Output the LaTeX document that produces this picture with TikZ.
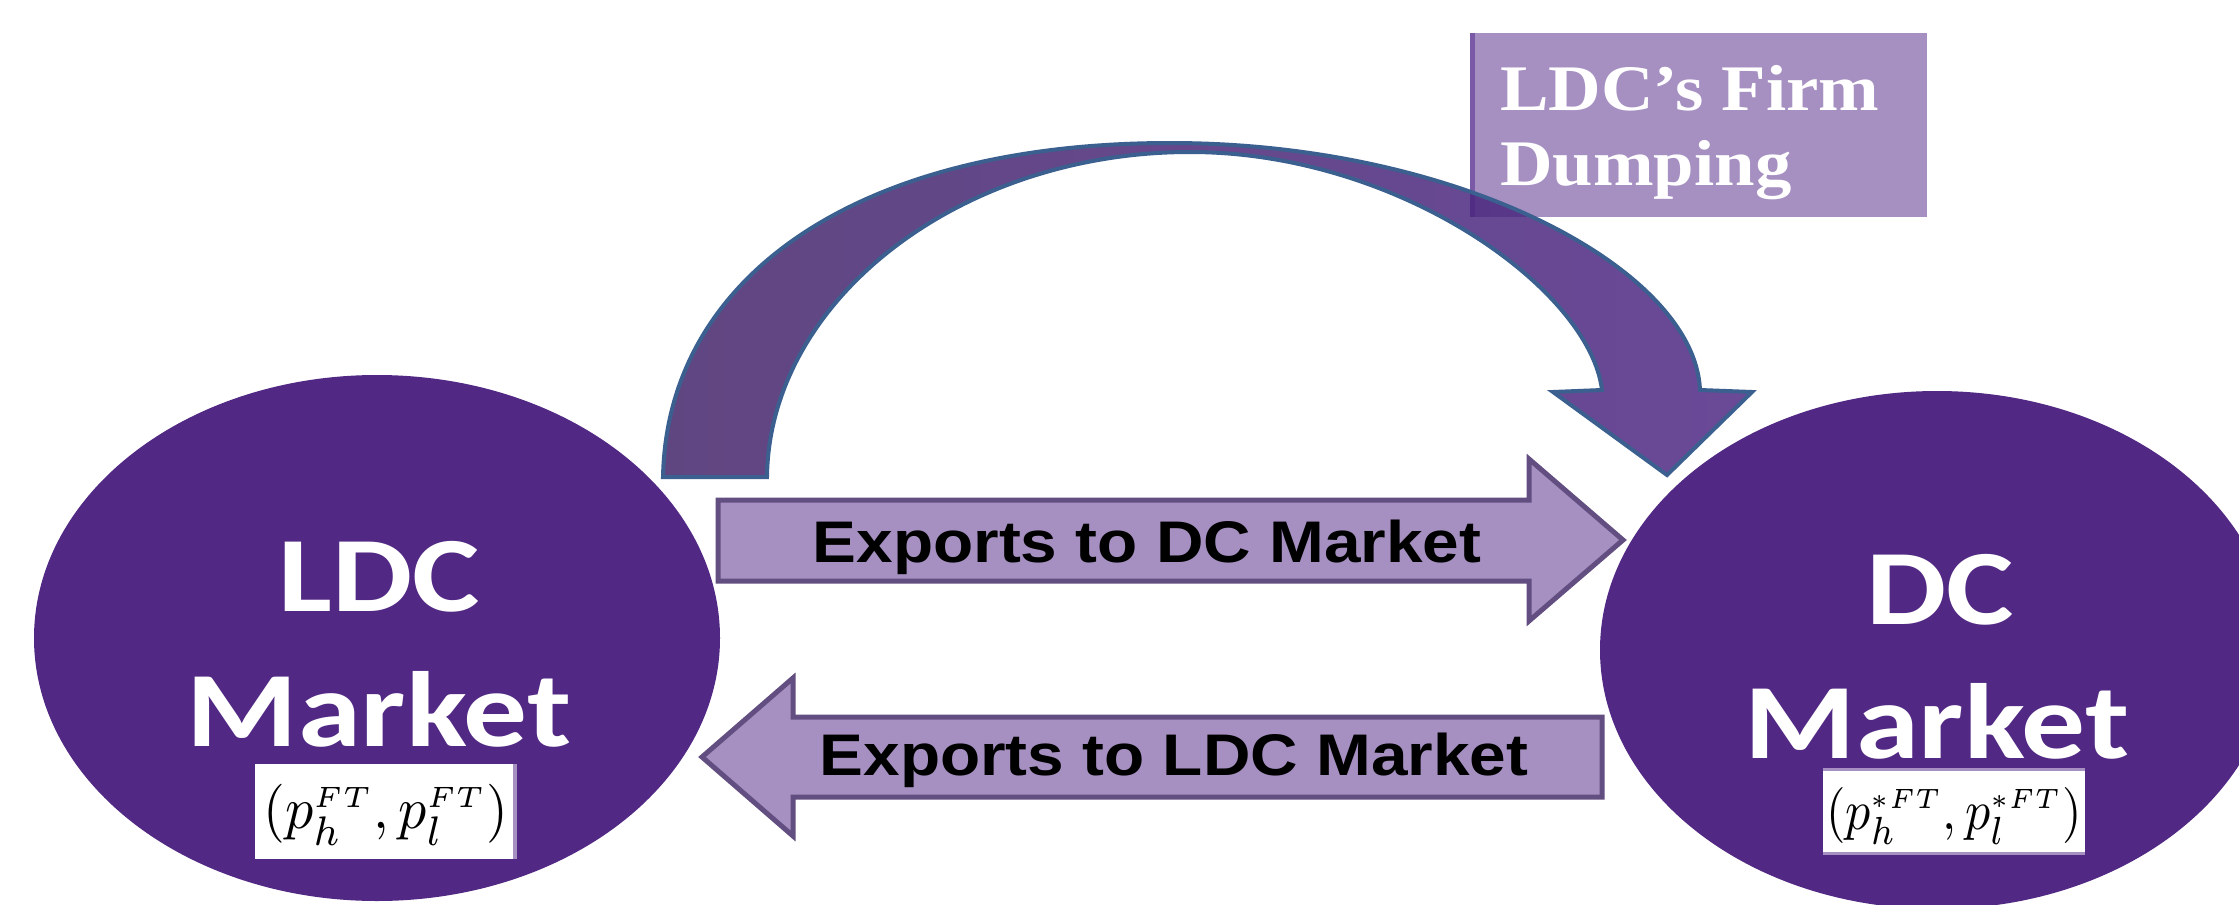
\documentclass[tikz,border=0pt]{standalone}
\usepackage{fontspec}
\usetikzlibrary{shapes.geometric}
\newfontfamily\calib{Carlito}
\newfontfamily\arialf{Liberation Sans}
\newfontfamily\timesf{Liberation Serif}
\definecolor{circ}{RGB}{81,40,131}
\definecolor{lav}{RGB}{166,144,194}
\definecolor{lavline}{RGB}{98,78,128}
\definecolor{boxedge}{RGB}{122,90,166}
\definecolor{arcL}{RGB}{64,33,104}
\definecolor{arcR}{RGB}{76,37,131}
\definecolor{arcline}{RGB}{59,95,143}
\tikzset{
  market/.style={ellipse, fill=circ, inner sep=0pt},
  mtext/.style={anchor=base, text=white, inner sep=0pt, font=\calib\bfseries\fontsize{107}{107}\selectfont},
  blockarrow/.style={fill=lav, draw=lavline, line width=5pt, line join=miter},
  atext/.style={anchor=base, inner sep=0pt, font=\arialf\bfseries\fontsize{58.7}{60}\selectfont},
  btext/.style={anchor=base west, inner sep=0pt, text=white, font=\timesf\bfseries\fontsize{65}{65}\selectfont},
  ftext/.style={inner sep=0pt}
}
\begin{document}
\begin{tikzpicture}[x=1pt,y=-1pt]
\useasboundingbox (0,0) rectangle (2239,905);
\fill[white] (0,0) rectangle (2239,905);

% market ellipses
\node[market, minimum width=686pt, minimum height=526pt] (ldc) at (377,638) {};
\node[market, minimum width=674pt, minimum height=518pt] (dc) at (1937,650) {};

\node[mtext] (ldc1) at (379,611) {\scalebox{1.19}[1]{LDC}};
\node[mtext] (ldc2) at (379,746) {\scalebox{1.19}[1]{Market}};
\node[mtext] (dc1) at (1940,624) {\scalebox{1.19}[1]{DC}};
\node[mtext] (dc2) at (1937,758) {\scalebox{1.19}[1]{Market}};

% formula boxes
\fill[white] (255,764) rectangle (517,859);
\draw[lav, line width=4pt] (515,764) -- (515,859);
\node[ftext] (ldcf) at (386,815) {\scalebox{5.6}[5.9]{$(p_h^{\scriptscriptstyle FT},p_l^{\scriptscriptstyle FT})$}};
\fill[white] (1823,768) rectangle (2085,855);
\draw[lav, line width=3pt] (1823,769.5) -- (2085,769.5);
\draw[lav, line width=3pt] (1823,853.5) -- (2085,853.5);
\node[ftext] (dcf) at (1954,816) {\scalebox{5.0}[5.6]{$(p_h^{\scriptscriptstyle *FT},p_l^{\scriptscriptstyle *FT})$}};

% straight block arrows
\path[blockarrow] (718,500) -- (1529,500) -- (1529,459) -- (1623,540) -- (1529,621) -- (1529,581) -- (718,581) -- cycle;
\node[atext] (exp1) at (1147,562) {\scalebox{1.12}[1]{Exports to DC Market}};
\path[blockarrow] (1602,717) -- (793,717) -- (793,678) -- (702,757) -- (793,836) -- (793,797) -- (1602,797) -- cycle;
\node[atext] (exp2) at (1174,775) {\scalebox{1.12}[1]{Exports to LDC Market}};

% dumping label box
\fill[lav] (1470,33) rectangle (1927,217);
\draw[boxedge, line width=5pt] (1472,33) -- (1472,217);
\node[btext] (dump1) at (1500,110) {\scalebox{1.12}[1]{LDC’s Firm}};
\node[btext] (dump2) at (1500,185) {\scalebox{1.12}[1]{Dumping}};

% curved dumping arrow
\path[left color=arcL, right color=arcR, opacity=0.83]
  (663,477) .. controls (667,275) and (860,143) .. (1170,143)
  .. controls (1460,143) and (1695,270) .. (1700,390)
  -- (1752,392) -- (1667,475) -- (1553,392) -- (1602,390)
  .. controls (1590,290) and (1400,152) .. (1190,152)
  .. controls (960,152) and (769,300) .. (767,477) -- cycle;
\draw[arcline, line width=4pt, line join=miter]
  (663,477) .. controls (667,275) and (860,143) .. (1170,143)
  .. controls (1460,143) and (1695,270) .. (1700,390)
  -- (1752,392) -- (1667,475) -- (1553,392) -- (1602,390)
  .. controls (1590,290) and (1400,152) .. (1190,152)
  .. controls (960,152) and (769,300) .. (767,477) -- cycle;
\end{tikzpicture}
\end{document}
